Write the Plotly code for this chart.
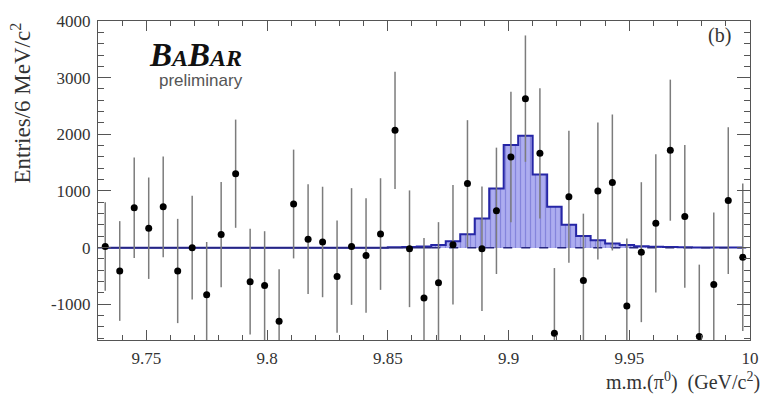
import plotly.graph_objects as go

# ---- data ----
bin_centers = [9.733, 9.739, 9.745, 9.751, 9.757, 9.763, 9.769, 9.775, 9.781, 9.787,
               9.793, 9.799, 9.805, 9.811, 9.817, 9.823, 9.829, 9.835, 9.841, 9.847,
               9.853, 9.859, 9.865, 9.871, 9.877, 9.883, 9.889, 9.895, 9.901, 9.907,
               9.913, 9.919, 9.925, 9.931, 9.937, 9.943, 9.949, 9.955, 9.961, 9.967,
               9.973, 9.979, 9.985, 9.991, 9.997]
bin_width = 0.006

entries = [20, -412, 704, 343, 720, -412, 0, -830, 230, 1305,
           -600, -670, -1300, 770, 150, 100, -510, 20, -140, 240,
           2070, -20, -890, -620, 50, 1130, -20, 650, 1600, 2630,
           1665, -1510, 900, -580, 1000, 1150, -1030, -80, 430, 1720,
           550, -1570, -650, 830, -170]
errors = [780, 880, 885, 895, 890, 920, 915, 930, 930, 955,
          935, 960, 920, 960, 970, 975, 990, 1030, 1010, 985,
          1035, 1030, 1060, 1070, 1055, 1120, 1100, 1115, 1150, 1115,
          1150, 1150, 1165, 1180, 1210, 1200, 1190, 1235, 1220, 1245,
          1260, 1270, 1270, 1295, 1300]
signal_hist = [0, 0, 0, 0, 0, 0, 0, 0, 0, 0,
               0, 0, 0, 0, 0, 0, 0, 0, 0, 0,
               5, 10, 20, 45, 115, 235, 515, 1045, 1810, 1975,
               1290, 720, 405, 205, 130, 75, 45, 25, 15, 10,
               6, 4, 3, 2, 1]
bkg_solid_x = [9.73, 9.868]
bkg_dash_x = [9.868, 10.0]
bkg_level = [0, 0]

x_tickvals = [9.75, 9.8, 9.85, 9.9, 9.95, 10.0]
x_ticktext = ["9.75", "9.8", "9.85", "9.9", "9.95", "10"]
y_tickvals = [-1000, 0, 1000, 2000, 3000, 4000]
y_ticktext = ["-1000", "0", "1000", "2000", "3000", "4000"]

W, H = 775, 398
ML, MR, MT, MB = 98, 25, 13, 58
PW, PH = W - ML - MR, H - MT - MB

def px(xp):
    return (xp - ML) / PW

def py(yp):
    return (H - MB - yp) / PH

serif = "Liberation Serif, Times New Roman, serif"
fig = go.Figure()

# signal histogram fill
fig.add_trace(go.Bar(
    x=bin_centers, y=signal_hist, width=bin_width,
    marker=dict(color="#a9a9ef", line=dict(width=0),
                pattern=dict(shape="|", fgcolor="#8585dc", bgcolor="#adadf0",
                             size=5, solidity=0.25, fillmode="replace")),
    showlegend=False, hoverinfo="skip"))
# outline
fig.add_trace(go.Scatter(
    x=bin_centers, y=signal_hist, mode="lines", line_shape="hvh",
    line=dict(color="#2626a6", width=2), showlegend=False, hoverinfo="skip"))
# background level
fig.add_trace(go.Scatter(x=bkg_solid_x, y=bkg_level, mode="lines",
                         line=dict(color="#262680", width=1.5), showlegend=False))
fig.add_trace(go.Scatter(x=bkg_dash_x, y=bkg_level, mode="lines",
                         line=dict(color="#262680", width=1.5, dash="dash"), showlegend=False))
# data
fig.add_trace(go.Scatter(
    x=bin_centers, y=entries, mode="markers",
    marker=dict(color="black", size=7),
    error_y=dict(type="data", array=errors, symmetric=True, color="#7c7c7c",
                 thickness=1.5, width=0),
    showlegend=False))

fig.update_xaxes(range=[9.73, 10.0], tickmode="array", tickvals=x_tickvals, ticktext=x_ticktext,
                 ticks="inside", ticklen=10, tickcolor="#555555", ticklabelstandoff=3,
                 tickfont=dict(family=serif, size=17, color="#333333"),
                 showline=True, linecolor="#555555", linewidth=1, mirror="ticks",
                 showgrid=False, zeroline=False,
                 minor=dict(dtick=0.01, tick0=9.73, ticks="inside", ticklen=5,
                            tickcolor="#555555", showgrid=False))
fig.update_yaxes(range=[-1630, 4000], tickmode="array", tickvals=y_tickvals, ticktext=y_ticktext,
                 ticks="inside", ticklen=13, tickcolor="#555555", ticklabelstandoff=3,
                 tickfont=dict(family=serif, size=17, color="#333333"),
                 showline=True, linecolor="#555555", linewidth=1, mirror="ticks",
                 showgrid=False, zeroline=False,
                 minor=dict(dtick=200, tick0=0, ticks="inside", ticklen=6,
                            tickcolor="#555555", showgrid=False))

annotations = [
    dict(text="Entries/6 MeV/c<sup>2</sup>", textangle=-90, xref="paper", yref="paper",
         x=px(21), y=py(13), xanchor="center", yanchor="top", showarrow=False,
         font=dict(family=serif, size=23, color="#333333")),
    dict(text="m.m.(π<sup>0</sup>)&#160;&#160;(GeV/c<sup>2</sup>)", xref="paper", yref="paper",
         x=px(762), y=py(383), xanchor="right", yanchor="middle", showarrow=False,
         font=dict(family=serif, size=20, color="#333333")),
    dict(text="<b><i>B<span style='font-size:24px'>A</span>B<span style='font-size:24px'>AR</span></i></b>",
         xref="paper", yref="paper", x=px(195), y=py(48), xanchor="center", yanchor="middle",
         showarrow=False, font=dict(family=serif, size=33, color="#111111")),
    dict(text="preliminary", xref="paper", yref="paper", x=px(201), y=py(74),
         xanchor="center", yanchor="middle", showarrow=False,
         font=dict(family="Liberation Sans, Arial, sans-serif", size=17, color="#555555")),
    dict(text="(b)", xref="paper", yref="paper", x=px(719), y=py(28),
         xanchor="center", yanchor="middle", showarrow=False,
         font=dict(family=serif, size=20, color="#333333")),
]

fig.update_layout(width=W, height=H, margin=dict(l=ML, r=MR, t=MT, b=MB),
                  font=dict(family=serif, size=17, color="#333333"),
                  paper_bgcolor="white", plot_bgcolor="white", bargap=0,
                  annotations=annotations, showlegend=False)

fig.write_html("out.html")
